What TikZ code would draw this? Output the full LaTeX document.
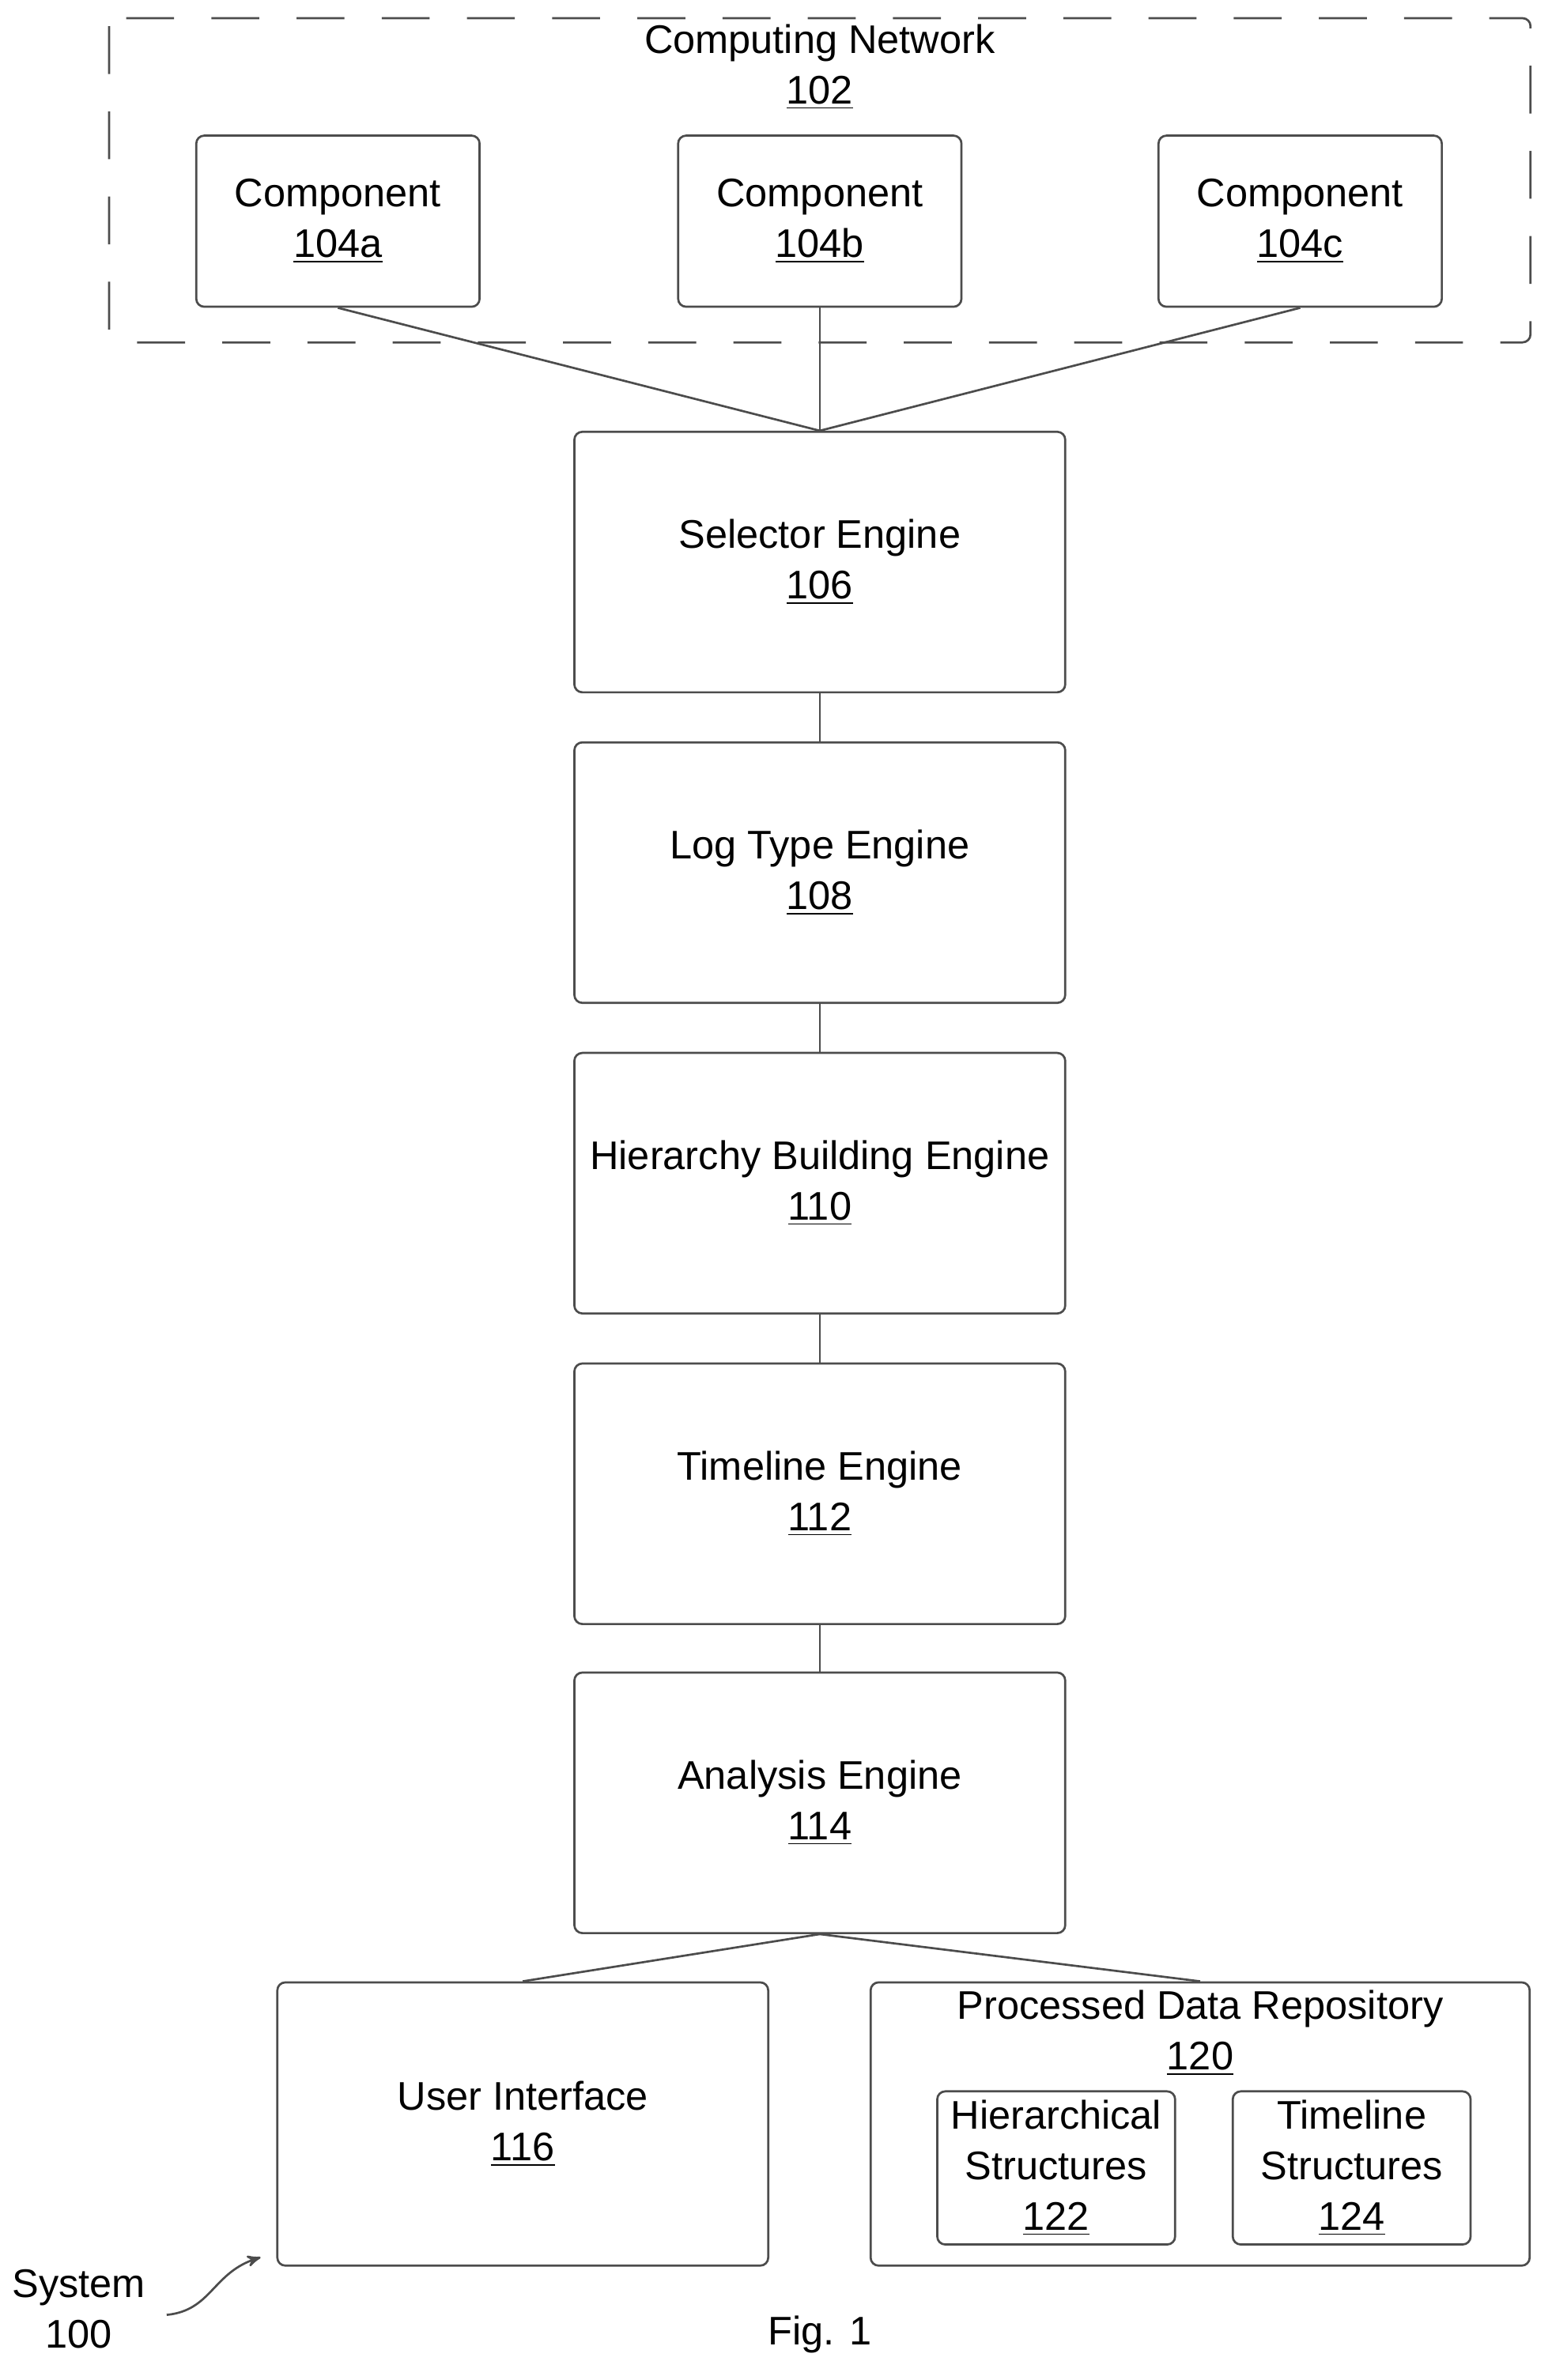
\documentclass[tikz,border=0pt]{standalone}
\usepackage{fontspec}
\setmainfont{Liberation Sans}
\usetikzlibrary{arrows,shapes,backgrounds,positioning,decorations.pathmorphing}
\def\num#1{\underline{#1}}

\begin{document}
\begin{tikzpicture}[x=0.02cm,y=-0.02cm,thick,draw=black!70,
    font=\fontsize{15}{19}\selectfont,
    engine/.style={draw=black!70,rounded corners=3pt,align=center,minimum width=6.48cm,minimum height=3.44cm},
    comp/.style={draw=black!70,rounded corners=3pt,align=center,minimum width=3.74cm,minimum height=2.26cm},
    store/.style={draw=black!70,rounded corners=3pt,align=center,minimum width=3.14cm,minimum height=1.96cm}]
  \useasboundingbox (0,0) rectangle (1024,1571);

  % computing network
  \draw[dashed,dash pattern=on 18pt off 14pt,rounded corners=3pt] (72,12) rectangle (1010,226);
  \node[align=center] (net) at (541,44) {Computing Network\\\num{102}};
  \node[comp] (104a) at (223,146) {Component\\\num{104a}};
  \node[comp] (104b) at (541,146) {Component\\\num{104b}};
  \node[comp] (104c) at (858,146) {Component\\\num{104c}};

  % engines
  \node[engine] (106) at (541,371) {Selector Engine\\\num{106}};
  \node[engine] (108) at (541,576) {Log Type Engine\\\num{108}};
  \node[engine] (110) at (541,781) {Hierarchy Building Engine\\\num{110}};
  \node[engine] (112) at (541,986) {Timeline Engine\\\num{112}};
  \node[engine] (114) at (541,1190) {Analysis Engine\\\num{114}};

  % outputs
  \node[engine,minimum height=3.74cm] (116) at (345,1402) {User Interface\\\num{116}};
  \node[draw=black!70,rounded corners=3pt,minimum width=8.7cm,minimum height=3.74cm] (120) at (792,1402) {};
  \node[align=center] (120t) at (792,1342) {Processed Data Repository\\\num{120}};
  \node[store] (122) at (697,1431) {Hierarchical\\Structures\\\num{122}};
  \node[store] (124) at (892,1431) {Timeline\\Structures\\\num{124}};

  \node[align=center] (sys) at (52,1524) {System\\100};
  \node (fig) at (541,1541) {Fig. 1};
  \coordinate (sysend) at (172,1490);

  \path[draw=black!70]
    (104a.south) edge (106.north)
    (104b.south) edge (106.north)
    (104c.south) edge (106.north)
    (106) edge (108)
    (108) edge (110)
    (110) edge (112)
    (112) edge (114)
    (114.south) edge (116.north)
    (114.south) edge (120.north);
  \draw[->,>=stealth',draw=black!70] (110,1528) .. controls (140,1525) and (140,1500) .. (sysend);
\end{tikzpicture}
\end{document}
